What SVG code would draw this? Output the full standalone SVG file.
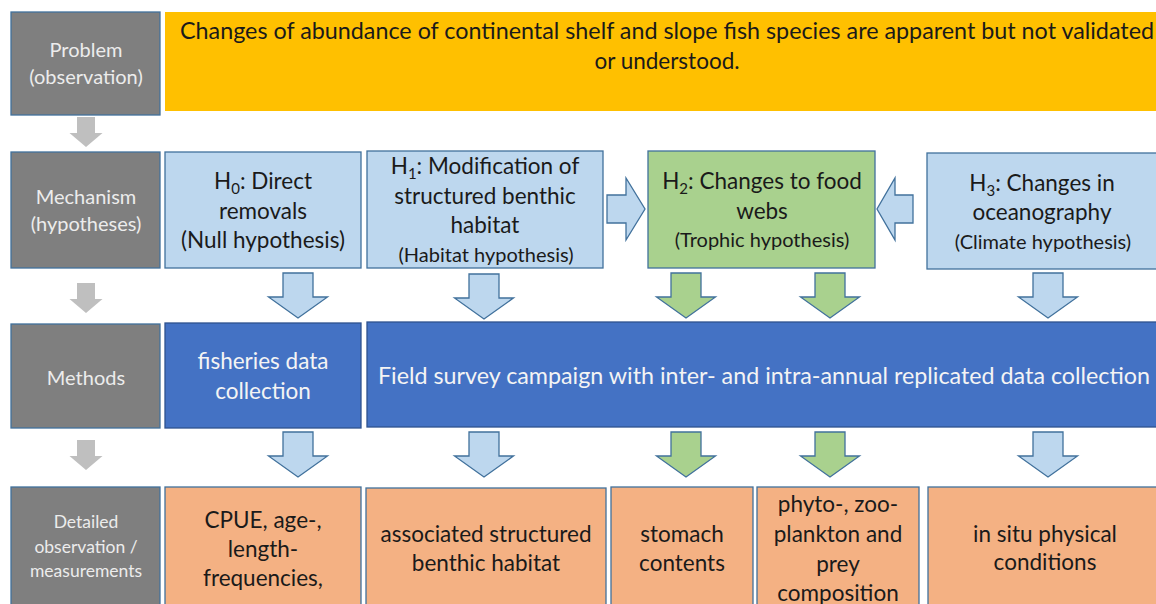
<svg xmlns="http://www.w3.org/2000/svg" xmlns:xlink="http://www.w3.org/1999/xlink" width="1156" height="604" viewBox="0 0 1156 604">
<style>
text{font-family:Lato,"Open Sans","Liberation Sans",sans-serif;text-anchor:middle}
.lbl{fill:#7f7f7f;stroke:#41719c;stroke-width:1.3}
.lbltx{fill:#ececec;font-size:20px}
.lbls{fill:#ececec;font-size:17.5px}
.yel{fill:#ffc000}
.lb{fill:#bdd7ee;stroke:#41719c;stroke-width:1.3}
.gr{fill:#a9d18e;stroke:#41719c;stroke-width:1.3}
.db{fill:#4472c4;stroke:#2f528f;stroke-width:1.3}
.or{fill:#f4b183;stroke:#41719c;stroke-width:1.3}
.tx{fill:#1a1a1a;font-size:22.5px}
.sm{font-size:20px}
.wt{fill:#f4f4f4;font-size:22.5px}
.garr{fill:#bfbfbf}
.barr{fill:#bdd7ee;stroke:#41719c;stroke-width:1.3}
.grarr{fill:#a9d18e;stroke:#41719c;stroke-width:1.3}
</style>
<defs>
<path id="darr" d="M-15,0 H15 V24 H29.5 L0,45 L-29.5,24 H-15 Z"/>
<path id="garw" d="M-9,0 H9 V16 H16.5 L0,30 L-16.5,16 H-9 Z"/>
</defs>

<g id="problem-label">
<rect class="lbl" x="11" y="12" width="149" height="103"/>
<text class="lbltx" x="86" y="57">Problem</text>
<text class="lbltx" x="86" y="84">(observation)</text>
</g>
<g id="problem">
<rect class="yel" x="165" y="12" width="991" height="99"/>
<text class="tx" x="667" y="39" textLength="974" lengthAdjust="spacingAndGlyphs">Changes of abundance of continental shelf and slope fish species are apparent but not validated</text>
<text class="tx" x="667" y="69">or understood.</text>
</g>

<g id="mechanism-label">
<rect class="lbl" x="11" y="152" width="149" height="116"/>
<text class="lbltx" x="86" y="204">Mechanism</text>
<text class="lbltx" x="86" y="231">(hypotheses)</text>
</g>
<g id="h0">
<rect class="lb" x="165" y="152" width="196" height="116"/>
<text class="tx" x="263" y="189">H<tspan font-size="15" dy="5">0</tspan><tspan dy="-5">: Direct</tspan></text>
<text class="tx" x="263" y="219">removals</text>
<text class="tx" x="263" y="248">(Null hypothesis)</text>
</g>
<g id="h1">
<rect class="lb" x="367" y="151" width="236" height="117"/>
<text class="tx" x="485" y="174">H<tspan font-size="15" dy="5">1</tspan><tspan dy="-5">: Modification of</tspan></text>
<text class="tx" x="485" y="204">structured benthic</text>
<text class="tx" x="485" y="233">habitat</text>
<text class="tx sm" x="486" y="262">(Habitat hypothesis)</text>
</g>
<g id="h2">
<rect class="gr" x="648" y="151" width="227" height="117"/>
<text class="tx" x="762" y="189">H<tspan font-size="15" dy="5">2</tspan><tspan dy="-5">: Changes to food</tspan></text>
<text class="tx" x="762" y="219">webs</text>
<text class="tx sm" x="762" y="247">(Trophic hypothesis)</text>
</g>
<g id="h3">
<rect class="lb" x="927" y="153" width="235" height="116"/>
<text class="tx" x="1042" y="191">H<tspan font-size="15" dy="5">3</tspan><tspan dy="-5">: Changes in</tspan></text>
<text class="tx" x="1042" y="220">oceanography</text>
<text class="tx sm" x="1043" y="249">(Climate hypothesis)</text>
</g>

<g id="methods-label">
<rect class="lbl" x="11" y="324" width="149" height="104"/>
<text class="lbltx" x="86" y="385">Methods</text>
</g>
<g id="fisheries">
<rect class="db" x="165" y="323" width="196" height="105"/>
<text class="wt" x="263" y="369">fisheries data</text>
<text class="wt" x="263" y="399">collection</text>
</g>
<g id="field">
<rect class="db" x="367" y="322" width="795" height="105"/>
<text class="wt" x="764" y="384" textLength="772" lengthAdjust="spacingAndGlyphs">Field survey campaign with inter- and intra-annual replicated data collection</text>
</g>

<g id="detail-label">
<rect class="lbl" x="11" y="487" width="149" height="125"/>
<text class="lbls" x="86" y="528">Detailed</text>
<text class="lbls" x="86" y="553">observation /</text>
<text class="lbls" x="86" y="577">measurements</text>
</g>
<g id="cpue">
<rect class="or" x="165" y="487" width="196" height="125"/>
<text class="tx" x="263" y="528">CPUE, age-,</text>
<text class="tx" x="263" y="557">length-</text>
<text class="tx" x="263" y="586">frequencies,</text>
</g>
<g id="habitat">
<rect class="or" x="366" y="488" width="240" height="124"/>
<text class="tx" x="486" y="542">associated structured</text>
<text class="tx" x="486" y="571">benthic habitat</text>
</g>
<g id="stomach">
<rect class="or" x="611" y="487" width="142" height="125"/>
<text class="tx" x="682" y="542">stomach</text>
<text class="tx" x="682" y="571">contents</text>
</g>
<g id="plankton">
<rect class="or" x="757" y="487" width="162" height="125"/>
<text class="tx" x="838" y="512">phyto-, zoo-</text>
<text class="tx" x="838" y="542">plankton and</text>
<text class="tx" x="838" y="572">prey</text>
<text class="tx" x="838" y="601">composition</text>
</g>
<g id="insitu">
<rect class="or" x="928" y="487" width="234" height="125"/>
<text class="tx" x="1045" y="542">in situ physical</text>
<text class="tx" x="1045" y="570">conditions</text>
</g>

<g id="connectors">
<use xlink:href="#garw" x="86" y="117" class="garr"/>
<use xlink:href="#garw" x="86" y="283" class="garr"/>
<use xlink:href="#garw" x="86" y="440" class="garr"/>

<path class="barr" d="M607,195 H626 V178 L645,209 L626,240 V223 H607 Z"/>
<path class="barr" d="M913,195 H895 V178 L877,209 L895,240 V223 H913 Z"/>

<use xlink:href="#darr" x="298" y="273" class="barr"/>
<use xlink:href="#darr" x="484" y="274" class="barr"/>
<use xlink:href="#darr" x="686" y="273" class="grarr"/>
<use xlink:href="#darr" x="830" y="273" class="grarr"/>
<use xlink:href="#darr" x="1048" y="273" class="barr"/>

<use xlink:href="#darr" x="298" y="432" class="barr"/>
<use xlink:href="#darr" x="484" y="432" class="barr"/>
<use xlink:href="#darr" x="686" y="432" class="grarr"/>
<use xlink:href="#darr" x="830" y="432" class="grarr"/>
<use xlink:href="#darr" x="1048" y="432" class="barr"/>
</g>
</svg>
